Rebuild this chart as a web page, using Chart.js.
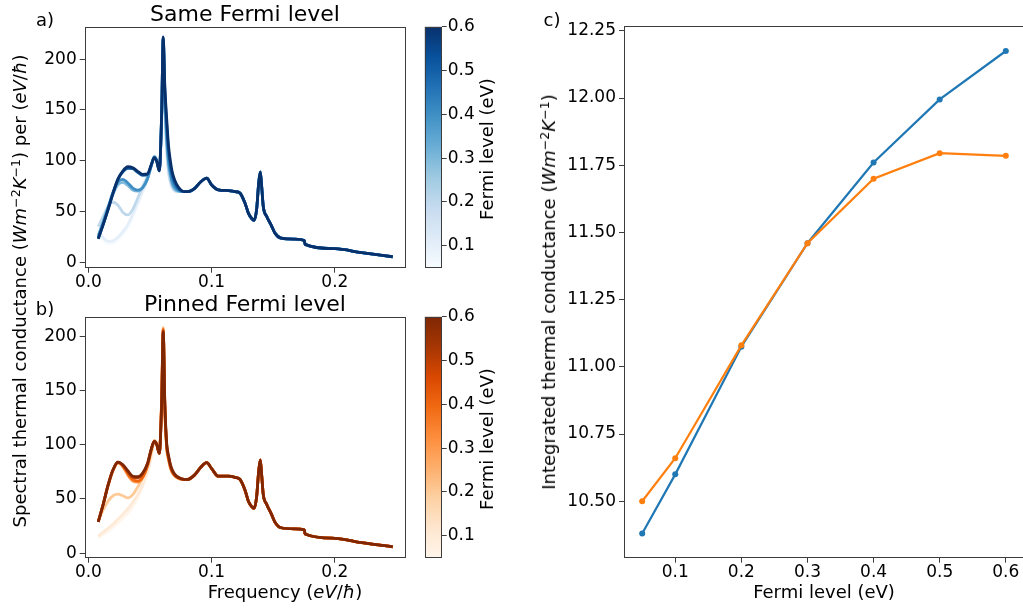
<!DOCTYPE html>
<html lang="en">
<head>
    <meta charset="UTF-8">
    <title>Spectral and integrated thermal conductance</title>
    <script src="https://cdn.jsdelivr.net/npm/chart.js"></script>
    <style>
        html, body { margin: 0; padding: 0; background: #fff; overflow: hidden; }
        body { width: 1023px; height: 608px; position: relative; font-family: "DejaVu Sans", sans-serif; color: #000; }
        canvas { position: absolute; }
        .lbl { position: absolute; white-space: nowrap; line-height: 1; font-size: 18px; transform: translate(-50%, -50%); }
        .rot { transform: translate(-50%, -50%) rotate(-90deg); }
        .ttl { font-size: 22px; }
        sup { font-size: 0.7em; vertical-align: 0.5em; line-height: 0; }
    </style>
</head>
<body>
    <!-- panels -->
    <canvas id="specSame" width="420" height="300" style="left:0;top:0"></canvas>
    <canvas id="cbarSame" width="100" height="300" style="left:410px;top:0"></canvas>
    <canvas id="specPinned" width="420" height="310" style="left:0;top:290px"></canvas>
    <canvas id="cbarPinned" width="100" height="310" style="left:410px;top:290px"></canvas>
    <canvas id="integrated" width="500" height="600" style="left:530px;top:0"></canvas>

    <!-- labels -->
    <div class="lbl" style="left:45px;top:20px">a)</div>
    <div class="lbl" style="left:45px;top:309px">b)</div>
    <div class="lbl" style="left:552px;top:20px">c)</div>
    <div class="lbl ttl" style="left:245px;top:14px">Same Fermi level</div>
    <div class="lbl ttl" style="left:245px;top:304px">Pinned Fermi level</div>
    <div class="lbl rot" style="left:20px;top:291px">Spectral thermal conductance (<i>Wm</i><sup>−2</sup><i>K</i><sup>−1</sup>) per (<i>eV</i>/<i>ħ</i>)</div>
    <div class="lbl" style="left:285px;top:592px">Frequency (<i>eV</i>/<i>ħ</i>)</div>
    <div class="lbl rot" style="left:487px;top:149px">Fermi level (eV)</div>
    <div class="lbl rot" style="left:487px;top:439px">Fermi level (eV)</div>
    <div class="lbl rot" style="left:549px;top:292px">Integrated thermal conductance (<i>Wm</i><sup>−2</sup><i>K</i><sup>−1</sup>)</div>
    <div class="lbl" style="left:824px;top:592px">Fermi level (eV)</div>

    <script>
        // Fermi levels (eV)
        const fermiLevels = [0.05, 0.1, 0.2, 0.3, 0.4, 0.5, 0.6];

        // low frequency part, where the curves differ (eV/hbar)
        const headFreq = [0.008, 0.012, 0.016, 0.020, 0.024, 0.028, 0.032, 0.036, 0.040, 0.044, 0.048, 0.051,
                          0.0535, 0.0555, 0.0575, 0.0595, 0.0607, 0.062, 0.0635, 0.065, 0.0665, 0.068, 0.070, 0.073];

        // same Fermi level, one array per Fermi level
        const same005 = [29, 22, 18, 18.5, 21.5, 27, 34, 44, 56, 68, 81, 94, 104.5, 101, 91, 144, 218, 150, 106, 87, 77, 72, 70, 69.5];
        const same01  = [31, 24, 20.5, 21, 24.5, 30, 37, 47, 58.5, 70, 82, 94.5, 104.5, 101, 91, 144, 218, 152, 108, 88, 78, 73, 70, 69.5];
        const same02  = [35, 45, 55, 59, 56, 49, 46.5, 52, 63, 74.5, 85, 96, 104.5, 100.5, 91, 145, 219, 155, 112, 90, 80, 74, 71, 69.5];
        const same03  = [26, 40, 54, 67, 76.5, 78.5, 75.5, 71, 70, 73, 82, 95, 104, 100, 91, 146, 220, 160, 120, 96, 85, 77, 72, 70];
        const same04  = [25, 39, 54, 69, 79, 81.5, 78, 73, 71, 73.5, 82.5, 95, 103.5, 100, 91, 148, 221, 165, 125, 100, 88, 79, 74, 70.5];
        const same05  = [23, 37, 52, 68, 81.5, 89, 92.5, 92, 88.5, 85.5, 86.5, 95.5, 103, 99.5, 90, 149, 221, 170, 136, 110, 95, 85, 78, 72];
        const same06  = [23, 37, 52, 68, 82, 90, 94, 93, 89.5, 86.5, 87, 96, 103, 99, 90, 150, 222, 174, 142, 115, 100, 89, 81, 74];

        // pinned Fermi level
        const pinned005 = [14.5, 17.5, 20.5, 24, 28, 32.5, 37, 43, 51, 61.5, 74, 88, 103, 101, 92, 145, 208, 130, 96, 86, 78, 74, 71, 69];
        const pinned01  = [16, 19.5, 23, 27, 31.5, 36, 41, 47, 54, 63.5, 75.5, 89, 103.5, 101, 92, 145, 208, 131, 97, 86, 78, 74, 71, 69];
        const pinned02  = [30, 40, 48, 53, 54.5, 53, 51, 54, 61, 70, 80, 93, 104, 101, 92, 145, 208, 132, 97, 86, 79, 74, 71, 69];
        const pinned03  = [29, 45, 62, 76, 83, 79.5, 72, 66.5, 65.5, 69.5, 80.5, 95, 103.5, 100, 92, 144, 207, 134, 98, 87, 79, 75, 71.5, 69];
        const pinned04  = [29, 45, 63, 77, 84, 80.5, 73.5, 68, 66.5, 70, 81, 95, 103, 100, 92, 143, 206, 136, 99, 88, 80, 75, 72, 69.5];
        const pinned05  = [29, 45, 63, 77, 84, 81, 75, 70, 69.5, 73, 82.5, 96, 103, 100, 92, 142, 205, 138, 100, 89, 81, 76, 72, 69.5];
        const pinned06  = [29, 45, 63, 77, 84, 81.5, 76, 71, 70.5, 74, 83, 96, 103, 100, 92, 140, 204, 140, 102, 90, 82, 77, 73, 70];

        // high frequency part, the same for every Fermi level
        const tailFreq = [0.0776, 0.0803, 0.0865, 0.091, 0.096, 0.1, 0.1054, 0.1135, 0.119, 0.123, 0.1271, 0.1298, 0.1325, 0.1344,
                          0.1365, 0.1382, 0.1395, 0.1406, 0.1419, 0.1447, 0.1485, 0.1514, 0.1563, 0.1676, 0.1752, 0.1758, 0.2001, 0.2217, 0.2469];
        const sameTail   = [69.5, 69.5, 73, 79, 82.8, 76, 71.2, 70.5, 69.5, 68, 58, 48.3, 43, 41.2,
                            52, 78, 89, 74.5, 54.8, 45, 36, 28.6, 23.6, 22.7, 21.3, 17.5, 13.2, 9.3, 5.3];
        const pinnedTail = [68, 68, 72.5, 79, 83.5, 78, 71, 71, 70, 68, 58, 48, 43, 41.4,
                            52, 76, 86, 72, 54, 45, 36, 28.6, 23.5, 22.5, 21.5, 17.7, 13.8, 9.8, 6];

        // integrated conductance (c)
        const intSame   = [10.38, 10.60, 11.075, 11.46, 11.76, 11.995, 12.175];
        const intPinned = [10.50, 10.66, 11.08, 11.46, 11.70, 11.795, 11.785];

        // tick labels
        const specTicksX = [0, 0.1, 0.2];
        const specTicksY = [0, 50, 100, 150, 200];
        const cbarTicks = [0.1, 0.2, 0.3, 0.4, 0.5, 0.6];
        const intTicksX = [0.1, 0.2, 0.3, 0.4, 0.5, 0.6];
        const intTicksY = [10.5, 10.75, 11.0, 11.25, 11.5, 11.75, 12.0, 12.25];

        // matplotlib Blues / Oranges
        const blues = ['#f7fbff', '#deebf7', '#c6dbef', '#9ecae1', '#6baed6', '#4292c6', '#2171b5', '#08519c', '#08306b'];
        const oranges = ['#fff5eb', '#fee6ce', '#fdd0a2', '#fdae6b', '#fd8d3c', '#f16913', '#d94801', '#a63603', '#7f2704'];

        Chart.defaults.font.family = 'DejaVu Sans';
        Chart.defaults.color = '#000';

        function hexRgb(h) {
            return [1, 3, 5].map(i => parseInt(h.slice(i, i + 2), 16));
        }

        function cmap(stops, t) {
            const n = stops.length - 1;
            const s = Math.min(Math.max(t, 0), 1) * n;
            const i = Math.min(Math.floor(s), n - 1);
            const f = s - i;
            const a = hexRgb(stops[i]), b = hexRgb(stops[i + 1]);
            const c = a.map((v, k) => Math.round(v + (b[k] - v) * f));
            return 'rgb(' + c.join(',') + ')';
        }

        // draws the box round the plot area
        const framePlugin = {
            id: 'frame',
            afterDraw(chart) {
                const a = chart.chartArea;
                const ctx = chart.ctx;
                const l = Math.round(a.left) + 0.5, t = Math.round(a.top) + 0.5;
                const r = Math.round(a.right) - 0.5, b = Math.round(a.bottom) - 0.5;
                ctx.save();
                ctx.strokeStyle = '#3c3c3c';
                ctx.lineWidth = 1;
                ctx.strokeRect(l, t, r - l, b - t);
                ctx.restore();
            }
        };

        function axis(ticks, min, max, digits, size, pad) {
            return {
                type: 'linear',
                min: min,
                max: max,
                afterBuildTicks: s => { s.ticks = ticks.map(v => ({ value: v })); },
                afterFit: s => { if (s.isHorizontal()) s.height = size; else s.width = size; },
                grid: { display: true, drawOnChartArea: false, drawTicks: true, tickLength: 5, tickColor: '#3c3c3c', tickWidth: 1 },
                border: { display: false },
                ticks: {
                    color: '#000', padding: pad, maxRotation: 0, autoSkip: false,
                    font: { family: 'DejaVu Sans', size: 17, lineHeight: 1 },
                    callback: v => Number(v).toFixed(digits)
                }
            };
        }

        const baseOptions = {
            responsive: false,
            animation: false,
            events: [],
            plugins: { legend: { display: false }, tooltip: { enabled: false } }
        };

        function spectralChart(id, heads, tail, stops, ymin, ymax, bottom) {
            const datasets = heads.map((h, i) => ({
                data: headFreq.map((f, k) => ({ x: f, y: h[k] }))
                    .concat(tailFreq.map((f, k) => ({ x: f, y: tail[k] }))),
                borderColor: cmap(stops, (fermiLevels[i] - 0.05) / 0.55),
                borderWidth: 2.8,
                pointRadius: 0,
                cubicInterpolationMode: 'monotone',
                order: heads.length - 1 - i
            }));
            return new Chart(document.getElementById(id), {
                type: 'line',
                data: { datasets: datasets },
                options: {
                    ...baseOptions,
                    layout: { padding: { left: 0, right: 14, top: 26.7, bottom: 0 } },
                    scales: {
                        x: axis(specTicksX, -0.003, 0.2577, 1, bottom, 1),
                        y: axis(specTicksY, ymin, ymax, 0, 84.7, 3)
                    }
                },
                plugins: [framePlugin]
            });
        }

        function colorbar(id, stops, bottom) {
            return new Chart(document.getElementById(id), {
                type: 'bar',
                data: {
                    labels: [''],
                    datasets: [{
                        data: [[0.05, 0.6]],
                        backgroundColor: c => {
                            const a = c.chart.chartArea;
                            if (!a) return stops[stops.length - 1];
                            const g = c.chart.ctx.createLinearGradient(0, a.bottom, 0, a.top);
                            stops.forEach((s, i) => g.addColorStop(i / (stops.length - 1), s));
                            return g;
                        },
                        borderWidth: 0,
                        barPercentage: 1,
                        categoryPercentage: 1
                    }]
                },
                options: {
                    ...baseOptions,
                    layout: { padding: { left: 14.7, right: 0, top: 26.7, bottom: bottom } },
                    scales: {
                        x: { display: false },
                        y: { ...axis(cbarTicks, 0.05, 0.6, 1, 68.3, 1), position: 'right' }
                    }
                },
                plugins: [framePlugin]
            });
        }

        spectralChart('specSame', [same005, same01, same02, same03, same04, same05, same06], sameTail, blues, -5.5, 232, 32.3);
        spectralChart('specPinned', [pinned005, pinned01, pinned02, pinned03, pinned04, pinned05, pinned06], pinnedTail, oranges, -4.1, 218, 42.3);
        colorbar('cbarSame', blues, 32.3);
        colorbar('cbarPinned', oranges, 42.3);

        new Chart(document.getElementById('integrated'), {
            type: 'line',
            data: {
                datasets: [
                    {
                        data: fermiLevels.map((f, i) => ({ x: f, y: intSame[i] })),
                        borderColor: '#1f77b4', backgroundColor: '#1f77b4',
                        borderWidth: 2.2, pointRadius: 3, pointBorderWidth: 0, order: 1
                    },
                    {
                        data: fermiLevels.map((f, i) => ({ x: f, y: intPinned[i] })),
                        borderColor: '#ff7f0e', backgroundColor: '#ff7f0e',
                        borderWidth: 2.2, pointRadius: 3, pointBorderWidth: 0, order: 0
                    }
                ]
            },
            options: {
                ...baseOptions,
                layout: { padding: { left: 0, right: 6, top: 26, bottom: 0 } },
                scales: {
                    x: axis(intTicksX, 0.0225, 0.6275, 1, 42.3, 1),
                    y: axis(intTicksY, 10.29, 12.268, 2, 94, 3)
                }
            },
            plugins: [framePlugin]
        });
    </script>
</body>
</html>
